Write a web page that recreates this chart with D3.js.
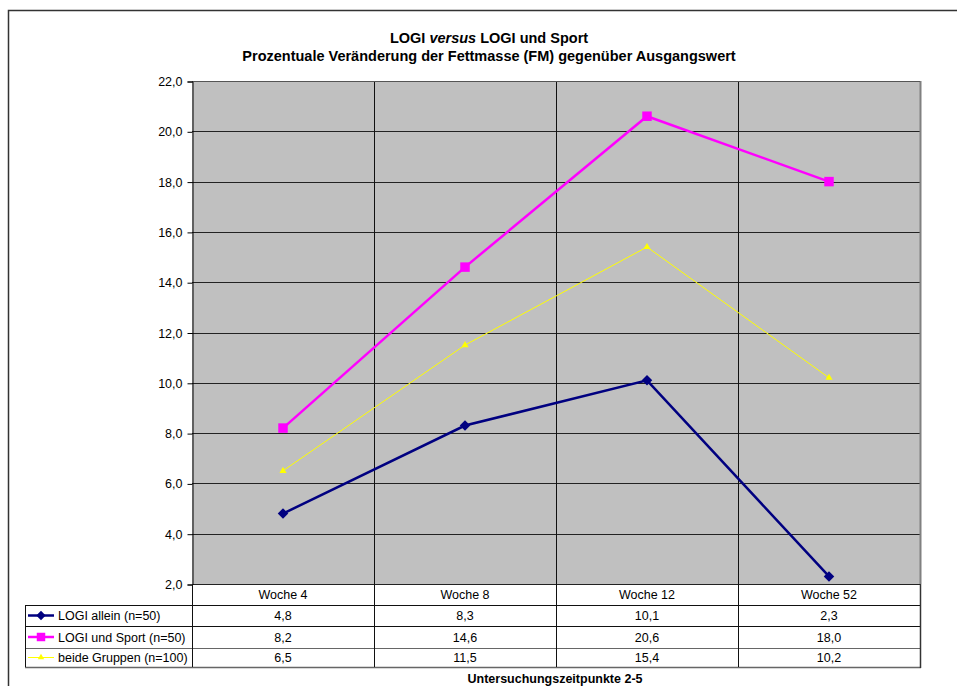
<!DOCTYPE html>
<html>
<head>
<meta charset="utf-8">
<script src="https://cdn.jsdelivr.net/npm/d3@7"></script>
<style>
  body { margin: 0; background: #fff; }
  svg { display: block; font-family: "Liberation Sans", Arial, sans-serif; }
</style>
</head>
<body>
<div id="chart"></div>
<script>
const weeks = ['Woche 4', 'Woche 8', 'Woche 12', 'Woche 52'];
const logiAllein = [4.8, 8.3, 10.1, 2.3];
const logiSport = [8.2, 14.6, 20.6, 18.0];
const beideGruppen = [6.5, 11.5, 15.4, 10.2];
const seriesNames = ['LOGI allein (n=50)', 'LOGI und Sport (n=50)', 'beide Gruppen (n=100)'];
const yTicks = [2, 4, 6, 8, 10, 12, 14, 16, 18, 20, 22];

const width = 957, height = 686;
const plot = { left: 192, right: 920, top: 81, bottom: 584 };
const fontSize = '12.5px';

const svg = d3.select('#chart').append('svg')
    .attr('width', width)
    .attr('height', height);

// outer frame
svg.append('rect')
    .attr('x', 8.5).attr('y', 10.5)
    .attr('width', 960).attr('height', 700)
    .attr('fill', '#fff')
    .attr('stroke', '#333')
    .attr('stroke-width', 1.5);

// title
const title = svg.append('text')
    .attr('x', 489).attr('y', 43)
    .attr('text-anchor', 'middle')
    .style('font-size', '14.5px')
    .style('font-weight', 'bold');
title.append('tspan').text('LOGI ');
title.append('tspan').style('font-style', 'italic').text('versus');
title.append('tspan').text(' LOGI und Sport');

svg.append('text')
    .attr('x', 489).attr('y', 61)
    .attr('text-anchor', 'middle')
    .style('font-size', '14.5px')
    .style('font-weight', 'bold')
    .text('Prozentuale Veränderung der Fettmasse (FM) gegenüber Ausgangswert');

const x = d3.scaleBand()
    .domain(weeks)
    .range([plot.left, plot.right]);

const y = d3.scaleLinear()
    .domain([2, 22])
    .range([plot.bottom, plot.top]);

// plot background
svg.append('rect')
    .attr('x', plot.left).attr('y', plot.top)
    .attr('width', plot.right - plot.left)
    .attr('height', plot.bottom - plot.top)
    .attr('fill', '#C0C0C0');

// horizontal gridlines
svg.selectAll('.hgrid')
    .data(yTicks)
    .enter()
    .append('line')
    .attr('class', 'hgrid')
    .attr('x1', plot.left).attr('x2', plot.right)
    .attr('y1', d => Math.round(y(d)) + 0.5)
    .attr('y2', d => Math.round(y(d)) + 0.5)
    .attr('stroke', '#222')
    .attr('stroke-width', 1);

// vertical gridlines between categories
svg.selectAll('.vgrid')
    .data(weeks.slice(1))
    .enter()
    .append('line')
    .attr('class', 'vgrid')
    .attr('x1', d => Math.round(x(d)) + 0.5)
    .attr('x2', d => Math.round(x(d)) + 0.5)
    .attr('y1', plot.top).attr('y2', plot.bottom)
    .attr('stroke', '#111')
    .attr('stroke-width', 1);

// plot border right/top (grey shadow look)
svg.append('line')
    .attr('x1', plot.right + 0.5).attr('x2', plot.right + 0.5)
    .attr('y1', plot.top).attr('y2', plot.bottom)
    .attr('stroke', '#808080').attr('stroke-width', 2);
svg.append('line')
    .attr('x1', plot.left).attr('x2', plot.right)
    .attr('y1', plot.top + 0.5).attr('y2', plot.top + 0.5)
    .attr('stroke', '#555').attr('stroke-width', 1);

// y axis
const yAxis = d3.axisLeft(y)
    .tickValues(yTicks)
    .tickSize(5)
    .tickPadding(5)
    .tickFormat(d => d3.format('.1f')(d).replace('.', ','));

const yAxisG = svg.append('g')
    .attr('transform', `translate(${plot.left + 0.5},0.5)`)
    .call(yAxis);
yAxisG.select('.domain').attr('stroke', '#000');
yAxisG.selectAll('.tick line').attr('stroke', '#000');
yAxisG.selectAll('.tick text')
    .style('font-size', fontSize)
    .style('font-family', '"Liberation Sans", Arial, sans-serif')
    .attr('fill', '#000');

// series
const series = [
    { name: seriesNames[0], values: logiAllein, color: '#000080', width: 2.5, symbol: d3.symbolDiamond2, size: 70 },
    { name: seriesNames[1], values: logiSport, color: '#FF00FF', width: 2.5, symbol: d3.symbolSquare, size: 90 },
    { name: seriesNames[2], values: beideGruppen, color: '#FFFF00', width: 1, symbol: d3.symbolTriangle, size: 22 }
];

const line = d3.line()
    .x((d, i) => x(weeks[i]) + x.bandwidth() / 2)
    .y(d => y(d));

series.forEach(s => {
    svg.append('path')
        .datum(s.values)
        .attr('d', line)
        .attr('fill', 'none')
        .attr('stroke', s.color)
        .attr('stroke-width', s.width);

    svg.selectAll(null)
        .data(s.values)
        .enter()
        .append('path')
        .attr('d', d3.symbol().type(s.symbol).size(s.size))
        .attr('transform', (d, i) => `translate(${x(weeks[i]) + x.bandwidth() / 2},${y(d)})`)
        .attr('fill', s.color);
});

// data table
const tableLeft = 25;
const rowEdges = [584, 605, 626, 648, 667];

const table = svg.append('g');

// header row (category labels)
table.selectAll('.head')
    .data(weeks)
    .enter()
    .append('text')
    .attr('x', d => x(d) + x.bandwidth() / 2)
    .attr('y', (rowEdges[0] + rowEdges[1]) / 2 + 4.5)
    .attr('text-anchor', 'middle')
    .style('font-size', fontSize)
    .text(d => d);

series.forEach((s, r) => {
    const cy = (rowEdges[r + 1] + rowEdges[r + 2]) / 2 + 4.5;
    table.selectAll(null)
        .data(s.values)
        .enter()
        .append('text')
        .attr('x', (d, i) => x(weeks[i]) + x.bandwidth() / 2)
        .attr('y', cy)
        .attr('text-anchor', 'middle')
        .style('font-size', fontSize)
        .text(d => d3.format('.1f')(d).replace('.', ','));

    // legend key
    const ky = (rowEdges[r + 1] + rowEdges[r + 2]) / 2;
    table.append('line')
        .attr('x1', 28).attr('x2', 54)
        .attr('y1', ky).attr('y2', ky)
        .attr('stroke', s.color)
        .attr('stroke-width', s.width);
    table.append('path')
        .attr('d', d3.symbol().type(s.symbol).size(s.size * 0.8))
        .attr('transform', `translate(41,${ky})`)
        .attr('fill', s.color);
    table.append('text')
        .attr('x', 58)
        .attr('y', cy)
        .style('font-size', fontSize)
        .text(s.name);
});

// table grid lines
rowEdges.slice(1).forEach((ry, i) => {
    table.append('line')
        .attr('x1', tableLeft).attr('x2', plot.right + 1)
        .attr('y1', ry + 0.5).attr('y2', ry + 0.5)
        .attr('stroke', i === 2 || i === 3 ? '#666' : '#111')
        .attr('stroke-width', i === 3 ? 1.5 : 1);
});
table.append('line')
    .attr('x1', tableLeft + 0.5).attr('x2', tableLeft + 0.5)
    .attr('y1', rowEdges[1]).attr('y2', rowEdges[4])
    .attr('stroke', '#111');
table.selectAll('.tv')
    .data([plot.left].concat(weeks.slice(1).map(d => x(d))))
    .enter()
    .append('line')
    .attr('x1', d => Math.round(d) + 0.5)
    .attr('x2', d => Math.round(d) + 0.5)
    .attr('y1', rowEdges[0]).attr('y2', rowEdges[4])
    .attr('stroke', '#111');
table.append('line')
    .attr('x1', plot.right + 0.5).attr('x2', plot.right + 0.5)
    .attr('y1', rowEdges[0]).attr('y2', rowEdges[4] + 1)
    .attr('stroke', '#333').attr('stroke-width', 1.5);

// x axis title
svg.append('text')
    .attr('x', 555)
    .attr('y', 683)
    .attr('text-anchor', 'middle')
    .style('font-size', '12.5px')
    .style('font-weight', 'bold')
    .text('Untersuchungszeitpunkte 2-5');
</script>
</body>
</html>
